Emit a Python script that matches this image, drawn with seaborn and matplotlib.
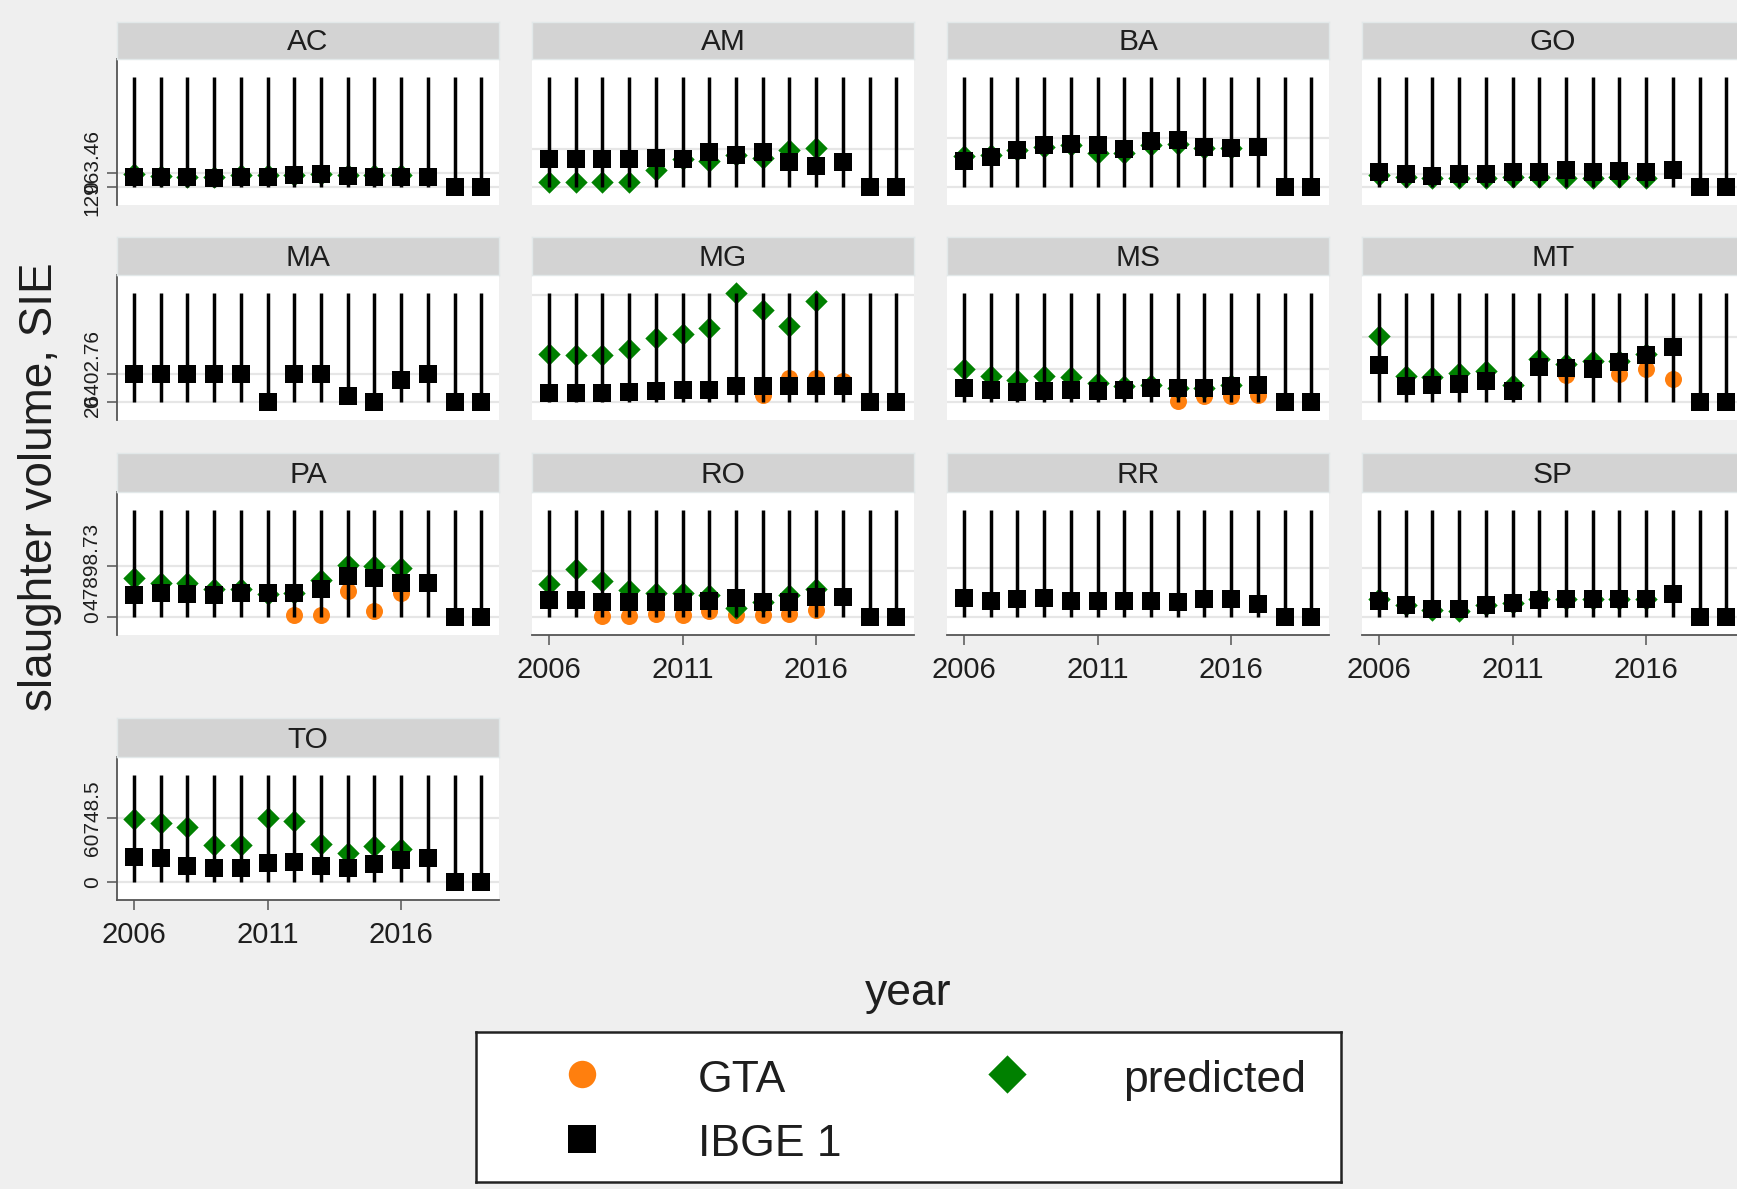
import numpy as np
import pandas as pd
import matplotlib
matplotlib.use("Agg")
import matplotlib.pyplot as plt
import seaborn as sns

plt.rcParams['font.family'] = ['Liberation Sans', 'DejaVu Sans']

nan = np.nan
years = [2006, 2007, 2008, 2009, 2010, 2011, 2012, 2013, 2014, 2015, 2016, 2017, 2018, 2019]
xtick_years = [2006, 2011, 2016]
states = ["AC", "AM", "BA", "GO", "MA", "MG", "MS", "MT", "PA", "RO", "RR", "SP", "TO"]
spike_top = 101000

# per-state series (GTA, predicted, IBGE 1)
AC_gta = [nan] * 14
AC_pred = [11900, 10300, 9400, 8800, 11200, 11200, 11200, 11900, 11200, 11200, 11200, nan, nan, nan]
AC_ibge = [8800, 8800, 8800, 7800, 8800, 8800, 11200, 11900, 10300, 8800, 9400, 9400, 0, 0]

AM_gta = [nan] * 14
AM_pred = [4600, 4600, 4600, 4600, 15400, 25300, 23800, 29300, 26900, 34000, 35500, nan, nan, nan]
AM_ibge = [25600, 25600, 25600, 25600, 26300, 25300, 32400, 29300, 32400, 23200, 19500, 23200, 0, 0]

BA_gta = [nan] * 14
BA_pred = [28400, 29300, 33900, 37100, 38600, 30900, 30900, 38600, 39200, 36200, 35500, nan, nan, nan]
BA_ibge = [23800, 27200, 33900, 38600, 39200, 38600, 34900, 42300, 43200, 37100, 35500, 37100, 0, 0]

GO_gta = [nan] * 14
GO_pred = [10800, 9300, 8300, 8300, 8300, 9300, 9300, 8300, 8300, 9300, 8300, nan, nan, nan]
GO_ibge = [13300, 12300, 10200, 12300, 12300, 13900, 13300, 15400, 13900, 14500, 13300, 15400, 0, 0]

MA_gta = [nan] * 14
MA_pred = [nan] * 14
MA_ibge = [26400, 26400, 26400, 26400, 26400, 0, 26400, 26400, 5900, 0, 20700, 26400, 0, 0]

MG_gta = [nan, nan, nan, nan, nan, nan, nan, nan, 6100, 22000, 22000, 19900, nan, nan]
MG_pred = [44400, 43400, 43400, 49000, 59700, 62700, 68900, 101000, 85100, 71000, 93300, nan, nan, nan]
MG_ibge = [8600, 8600, 8600, 9200, 9800, 11600, 11600, 14700, 15300, 15300, 15300, 15300, 0, 0]

MS_gta = [nan, nan, nan, nan, nan, nan, nan, nan, 500, 5500, 5500, 6100, nan, nan]
MS_pred = [30600, 24400, 20800, 23800, 23200, 17200, 14700, 16200, 13100, 13100, 16200, nan, nan, nan]
MS_ibge = [13100, 11000, 9200, 10100, 11600, 10100, 11000, 13100, 13100, 13100, 14700, 16200, 0, 0]

MT_gta = [nan, nan, nan, nan, nan, nan, nan, 25100, nan, 26000, 30600, 21400, nan, nan]
MT_pred = [61200, 24400, 23000, 26900, 29100, 15900, 39800, 35200, 38300, 38300, 44400, nan, nan, nan]
MT_ibge = [34200, 15300, 15900, 16500, 19900, 10700, 32100, 31200, 30600, 37300, 43400, 51400, 0, 0]

PA_gta = [nan, nan, nan, nan, nan, nan, 2500, 2500, 24700, 6200, 23200, nan, nan, nan]
PA_pred = [37100, 32400, 32400, 26900, 26300, 21600, 23200, 34900, 49400, 47900, 46400, nan, nan, nan]
PA_ibge = [20700, 23200, 22200, 21000, 23200, 23200, 23200, 26900, 38600, 37100, 32400, 32400, 0, 0]

RO_gta = [nan, nan, 900, 900, 3100, 2400, 5500, 2400, 2400, 3100, 7000, nan, nan, nan]
RO_pred = [31500, 45300, 33700, 25400, 23300, 23300, 20800, 9200, 14100, 20800, 26900, nan, nan, nan]
RO_ibge = [16200, 16200, 14100, 14700, 14100, 14100, 15300, 17800, 14700, 14100, 19300, 19300, 0, 0]

RR_gta = [nan] * 14
RR_pred = [nan] * 14
RR_ibge = [18500, 15400, 17500, 18500, 15400, 15400, 15400, 15400, 14400, 17500, 17500, 12300, 0, 0]

SP_gta = [nan] * 14
SP_pred = [17500, 11300, 7200, 6200, 11300, 13300, 17500, 17500, 17500, 17500, 17500, nan, nan, nan]
SP_ibge = [15400, 11300, 8200, 8200, 11300, 13300, 16500, 17500, 17500, 17500, 17500, 21500, 0, 0]

TO_gta = [nan] * 14
TO_pred = [59700, 56000, 51900, 34800, 34800, 60600, 57500, 35700, 28000, 34200, 31700, nan, nan, nan]
TO_ibge = [24200, 23300, 15600, 13300, 13000, 18000, 19300, 15600, 13900, 17100, 21100, 22400, 0, 0]

# upper reference line per panel (labelled only in first column)
upper_ref = [12963.46, 34900, 45400, 12300, 26402.76, 98900, 30900, 60600,
             47898.73, 43800, 46000, 46000, 60748.5]
upper_ref_labels = ["12963.46", "", "", "", "26402.76", "", "", "",
                    "47898.73", "", "", "", "60748.5"]

legend_labels = ["GTA", "predicted", "IBGE 1"]

series = {
    "AC": (AC_gta, AC_pred, AC_ibge), "AM": (AM_gta, AM_pred, AM_ibge),
    "BA": (BA_gta, BA_pred, BA_ibge), "GO": (GO_gta, GO_pred, GO_ibge),
    "MA": (MA_gta, MA_pred, MA_ibge), "MG": (MG_gta, MG_pred, MG_ibge),
    "MS": (MS_gta, MS_pred, MS_ibge), "MT": (MT_gta, MT_pred, MT_ibge),
    "PA": (PA_gta, PA_pred, PA_ibge), "RO": (RO_gta, RO_pred, RO_ibge),
    "RR": (RR_gta, RR_pred, RR_ibge), "SP": (SP_gta, SP_pred, SP_ibge),
    "TO": (TO_gta, TO_pred, TO_ibge),
}
frames = []
for st in states:
    g, p, b = series[st]
    frames.append(pd.DataFrame({"state": st, "year": years, "gta": g, "pred": p,
                                "ibge": b, "top": spike_top}))
df = pd.concat(frames, ignore_index=True)

# ---- style / layout ----
W, H = 1737, 1189
BG = "#efefef"
ORANGE = "#ff7f0e"
GREEN = "#008000"
GRID = "#e6e6e6"
AXC = "#555555"
TXT = "#1e1e1e"

col_left = [117, 532, 947, 1362]
PW = 382
row_px = [(22, 59, 205), (237, 275, 420), (453, 492, 635), (718, 757, 900)]
bottom_panels = {"RO", "RR", "SP", "TO"}

fig = plt.figure(figsize=(W / 100, H / 100), dpi=100, facecolor=BG)

for i, st in enumerate(states):
    r, c = divmod(i, 4)
    x0 = col_left[c]
    s_top, p_top, p_bot = row_px[r]
    ax = fig.add_axes([x0 / W, 1 - p_bot / H, PW / W, (p_bot - p_top) / H])
    ax.set_facecolor("white")
    sub = df[df.state == st]

    ax.axhline(0, color=GRID, lw=1.6, zorder=0)
    ax.axhline(upper_ref[i], color=GRID, lw=1.6, zorder=0)

    if sub["gta"].notna().any():
        sns.scatterplot(data=sub, x="year", y="gta", ax=ax, color=ORANGE, marker="o",
                        s=150, linewidth=0, zorder=3)
    if sub["pred"].notna().any():
        sns.scatterplot(data=sub, x="year", y="pred", ax=ax, color=GREEN, marker="D",
                        s=130, linewidth=0, zorder=4)
    sns.scatterplot(data=sub, x="year", y="ibge", ax=ax, color="black", marker="s",
                    s=169, linewidth=0, zorder=5)
    ax.vlines(sub["year"], 0, sub["top"], color="black", lw=2.5, zorder=6)

    ax.set_xlim(2005.37, 2019.66)
    ax.set_ylim(-0.165 * spike_top, 1.167 * spike_top)
    ax.set_xlabel("")
    ax.set_ylabel("")
    for sp in ax.spines.values():
        sp.set_visible(False)

    if c == 0:
        ax.spines["left"].set_visible(True)
        ax.spines["left"].set_color(AXC)
        ax.spines["left"].set_linewidth(1.3)
        ax.set_yticks([0, upper_ref[i]])
        ax.set_yticklabels(["0", upper_ref_labels[i]])
        ax.tick_params(axis="y", length=7, width=1.1, color=AXC, labelsize=15,
                       labelcolor=TXT, labelrotation=90, pad=4)
        for lab in ax.get_yticklabels():
            lab.set_va("center")
    else:
        ax.set_yticks([])

    if st in bottom_panels:
        ax.spines["bottom"].set_visible(True)
        ax.spines["bottom"].set_color(AXC)
        ax.spines["bottom"].set_linewidth(1.3)
        ax.set_xticks(xtick_years)
        ax.set_xticklabels([str(y) for y in xtick_years])
        ax.tick_params(axis="x", length=7, width=1.1, color=AXC, labelsize=21,
                       labelcolor=TXT, pad=8)
    else:
        ax.set_xticks([])

    # strip with state name
    sax = fig.add_axes([x0 / W, 1 - p_top / H, PW / W, (p_top - s_top) / H])
    sax.set_facecolor("#d3d3d3")
    sax.set_xticks([])
    sax.set_yticks([])
    for sp in sax.spines.values():
        sp.set_color("#e2e8e9")
        sp.set_linewidth(1.0)
    sax.text(0.5, 0.24, st, ha="center", va="baseline", fontsize=21.5, color=TXT,
             transform=sax.transAxes)

# axis titles
fig.text(40 / W, 1 - 487 / H, "slaughter volume, SIE", rotation=90, ha="center",
         va="center", fontsize=33, color=TXT)
fig.text(908 / W, 1 - 994 / H, "year", ha="center", va="center", fontsize=32, color=TXT)

# legend box
lx0, lx1, ly0, ly1 = 476, 1341, 1032, 1182
lax = fig.add_axes([lx0 / W, 1 - ly1 / H, (lx1 - lx0) / W, (ly1 - ly0) / H])
lax.set_xlim(0, lx1 - lx0)
lax.set_ylim(ly1 - ly0, 0)
lax.set_facecolor("white")
lax.set_xticks([])
lax.set_yticks([])
for sp in lax.spines.values():
    sp.set_color("#222222")
    sp.set_linewidth(1.8)
lax.scatter([106], [42], s=390, marker="o", color=ORANGE, linewidths=0)
lax.scatter([530.5], [42], s=380, marker="D", color=GREEN, linewidths=0)
lax.scatter([106], [107], s=390, marker="s", color="black", linewidths=0)
lax.text(222, 60, legend_labels[0], fontsize=32, va="baseline", ha="left", color=TXT)
lax.text(647, 60, legend_labels[1], fontsize=32, va="baseline", ha="left", color=TXT)
lax.text(222, 124, legend_labels[2], fontsize=32, va="baseline", ha="left", color=TXT)

fig.savefig("out.png", dpi=100, facecolor=BG)
